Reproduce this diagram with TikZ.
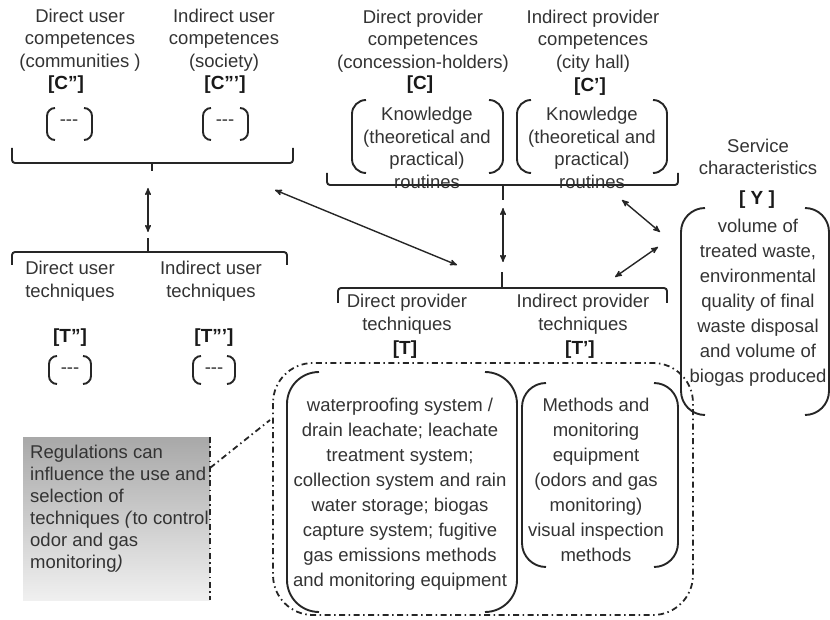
\documentclass[tikz,border=0pt]{standalone}
\usepackage{fontspec}
\setmainfont{Liberation Sans}
\usetikzlibrary{arrows}
\usetikzlibrary{calc}

\begin{document}
\begin{tikzpicture}[
    x=1pt, y=-1pt,
    lbl/.style={align=center, inner sep=0pt, text=black!80,
        font=\fontsize{18.5}{22.5}\selectfont},
    lbl loose/.style={lbl, font=\fontsize{18.5}{25}\selectfont},
    code/.style={lbl, text=black!90, font=\fontsize{19}{22}\selectfont\bfseries},
    brace line/.style={line width=1.9pt, rounded corners=3pt, black!85},
    paren line/.style={line width=1.9pt, black!85},
    double arrow/.style={<->, >=stealth', line width=1.4pt, black!85},
    dashdot line/.style={line width=1.8pt, black!85,
        dash pattern=on 6pt off 3.5pt on 1.5pt off 3.5pt},
    regbox/.style={draw=none, top color=black!34, bottom color=black!6,
        minimum width=187pt, minimum height=163pt, inner sep=0pt},
    ]
    \useasboundingbox (0,0) rectangle (830,620);

    % user competences
    \node[lbl] (cdu) at (80,40) {Direct user\\competences\\(communities )};
    \node[lbl] (ciu) at (224,40) {Indirect user\\competences\\(society)};
    \node[code] (cdu code) at (66,85) {[C'']};
    \node[code] (ciu code) at (225,85) {[C''']};
    \node[lbl] (cdu list) at (69,123) {-{}-{}-};
    \node[lbl] (ciu list) at (225,123) {-{}-{}-};

    % user techniques
    \node[lbl] (tdu) at (70,281) {Direct user\\techniques};
    \node[lbl] (tiu) at (211,281) {Indirect user\\techniques};
    \node[code] (tdu code) at (70,338) {[T'']};
    \node[code] (tiu code) at (214,338) {[T''']};
    \node[lbl] (tdu list) at (70,371) {-{}-{}-};
    \node[lbl] (tiu list) at (214,371) {-{}-{}-};

    % provider competences
    \node[lbl] (cdp) at (423,41) {Direct provider\\competences\\(concession-holders)};
    \node[lbl] (cip) at (593,41) {Indirect provider\\competences\\(city hall)};
    \node[code] (cdp code) at (420,85) {[C]};
    \node[code] (cip code) at (590,87) {[C']};
    \node[lbl] (cdp know) at (427,148) {Knowledge\\(theoretical and\\practical)\\routines};
    \node[lbl] (cip know) at (592,148) {Knowledge\\(theoretical and\\practical)\\routines};

    % provider techniques
    \node[lbl] (tdp) at (407,314) {Direct provider\\techniques};
    \node[lbl] (tip) at (583,314) {Indirect provider\\techniques};
    \node[code] (tdp code) at (405,350) {[T]};
    \node[code] (tip code) at (580,350) {[T']};
    \node[lbl loose] (tdp list) at (400,494) {waterproofing system /\\drain leachate; leachate\\treatment system;\\collection system and rain\\water storage; biogas\\capture system; fugitive\\gas emissions methods\\and monitoring equipment};
    \node[lbl loose] (tip list) at (596,480) {Methods and\\monitoring\\equipment\\(odors and gas\\monitoring)\\visual inspection\\methods};

    % service characteristics
    \node[lbl] (serv) at (758,157) {Service\\characteristics};
    \node[code] (serv code) at (757,200) {[ Y ]};
    \node[lbl loose] (serv list) at (758,303) {volume of\\treated waste,\\environmental\\quality of final\\waste disposal\\and volume of\\biogas produced};

    % parentheses round the lists
    \foreach \xa/\ya/\xb/\yb/\r in {47/108/92/140/8, 203/108/248/140/8,
        49/356/91/384/8, 193/356/235/384/8,
        352/100/503/173/14, 517/100/667/173/14,
        681/208/829/415/24, 287/372/517/612/32, 522/383/678/567/24}
    {
        \draw[paren line, rounded corners=\r pt] ({\xa+\r},\ya) -- (\xa,\ya) -- (\xa,\yb) -- ({\xa+\r},\yb);
        \draw[paren line, rounded corners=\r pt] ({\xb-\r},\ya) -- (\xb,\ya) -- (\xb,\yb) -- ({\xb-\r},\yb);
    }

    % brackets
    \draw[brace line] (12,148) -- (12,163) -- (293,163) -- (293,148);
    \draw[brace line] (152,163) -- (152,171);
    \draw[brace line] (12,265) -- (12,252) -- (287,252) -- (287,265);
    \draw[brace line] (148,252) -- (148,238);
    \draw[brace line] (327,173) -- (327,185) -- (678,185) -- (678,173);
    \draw[brace line] (503,185) -- (503,200);
    \draw[brace line] (338,303) -- (338,288) -- (667,288) -- (667,303);
    \draw[brace line] (502,288) -- (502,272);

    % arrow ends
    \coordinate (uc) at (148,188); \coordinate (ut) at (148,232);
    \coordinate (pc) at (503,208); \coordinate (pt) at (503,262);
    \coordinate (uc far) at (275,190); \coordinate (pt far) at (457,265);
    \coordinate (pc near) at (622,200); \coordinate (sv top) at (660,232);
    \coordinate (sv low) at (658,247); \coordinate (pt near) at (615,277);
    \draw[double arrow] (uc) -- (ut);
    \draw[double arrow] (pc) -- (pt);
    \draw[double arrow] (uc far) -- (pt far);
    \draw[double arrow] (pc near) -- (sv top);
    \draw[double arrow] (sv low) -- (pt near);

    % technique frame
    \draw[dashdot line, rounded corners=40pt] (273,363) rectangle (693,615);
    \coordinate (frame) at (270,420);

    % regulations
    \node[regbox] (reg) at (116.5,518.5) {};
    \node[lbl, align=left, anchor=west, font=\fontsize{18.5}{22}\selectfont] (regtxt) at (30,509)
        {Regulations can\\influence the use and\\selection of\\techniques \textit{(}to control\\odor and gas\\monitoring\textit{)}};
    \draw[dashdot line] (reg.north east) -- (reg.south east);
    \draw[dashdot line] ([yshift=-31pt]reg.north east) -- (frame);
\end{tikzpicture}
\end{document}
